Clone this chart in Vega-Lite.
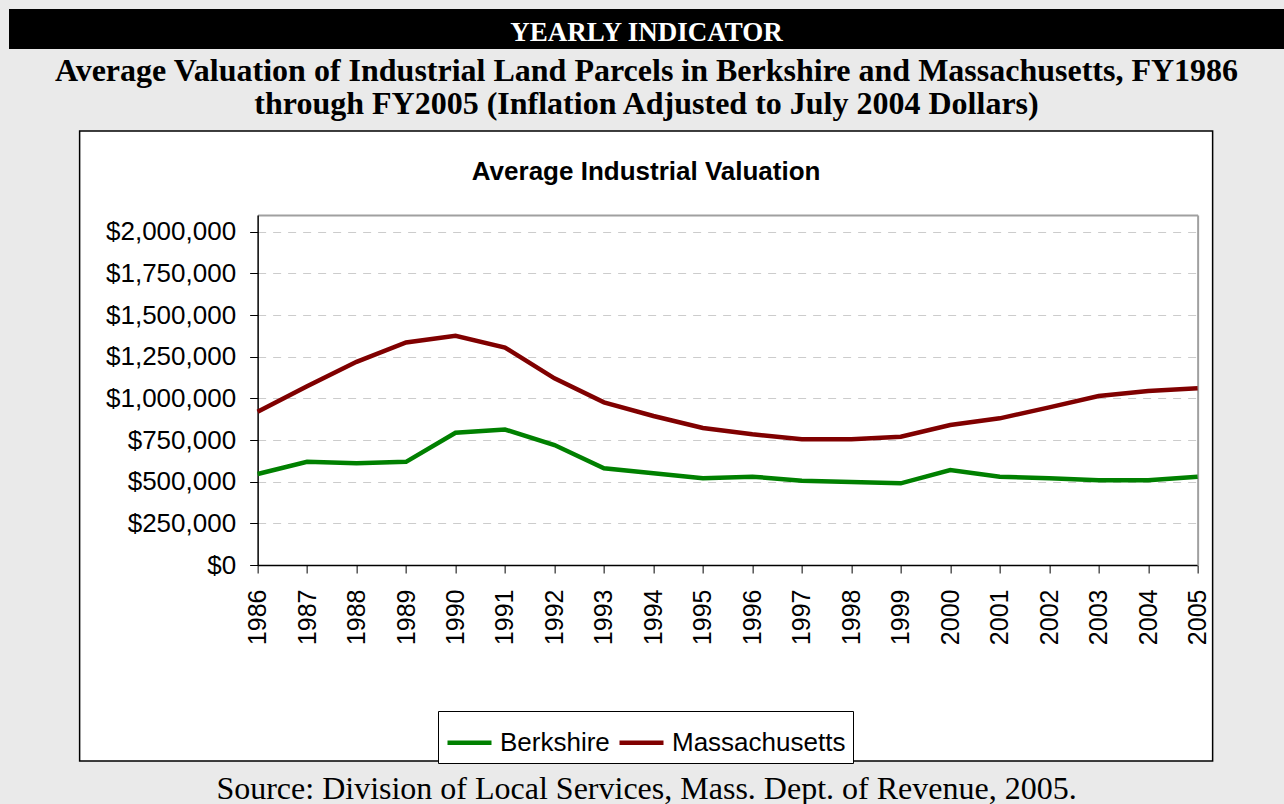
{
  "$schema": "https://vega.github.io/schema/vega-lite/v6.json",
  "background": "#eaeaea",
  "padding": {"left": 9, "top": 9, "right": 0, "bottom": 0},
  "spacing": 10,
  "center": true,
  "datasets": {
    "valuation": [
      {"year": "1986", "region": "Berkshire", "value": 546000},
      {"year": "1987", "region": "Berkshire", "value": 619000},
      {"year": "1988", "region": "Berkshire", "value": 610000},
      {"year": "1989", "region": "Berkshire", "value": 619000},
      {"year": "1990", "region": "Berkshire", "value": 793000},
      {"year": "1991", "region": "Berkshire", "value": 813000},
      {"year": "1992", "region": "Berkshire", "value": 720000},
      {"year": "1993", "region": "Berkshire", "value": 580000},
      {"year": "1994", "region": "Berkshire", "value": 550000},
      {"year": "1995", "region": "Berkshire", "value": 520000},
      {"year": "1996", "region": "Berkshire", "value": 530000},
      {"year": "1997", "region": "Berkshire", "value": 506000},
      {"year": "1998", "region": "Berkshire", "value": 498000},
      {"year": "1999", "region": "Berkshire", "value": 490000},
      {"year": "2000", "region": "Berkshire", "value": 570000},
      {"year": "2001", "region": "Berkshire", "value": 530000},
      {"year": "2002", "region": "Berkshire", "value": 520000},
      {"year": "2003", "region": "Berkshire", "value": 508000},
      {"year": "2004", "region": "Berkshire", "value": 508000},
      {"year": "2005", "region": "Berkshire", "value": 530000},
      {"year": "1986", "region": "Massachusetts", "value": 919000},
      {"year": "1987", "region": "Massachusetts", "value": 1073000},
      {"year": "1988", "region": "Massachusetts", "value": 1219000},
      {"year": "1989", "region": "Massachusetts", "value": 1335000},
      {"year": "1990", "region": "Massachusetts", "value": 1375000},
      {"year": "1991", "region": "Massachusetts", "value": 1305000},
      {"year": "1992", "region": "Massachusetts", "value": 1120000},
      {"year": "1993", "region": "Massachusetts", "value": 976000},
      {"year": "1994", "region": "Massachusetts", "value": 894000},
      {"year": "1995", "region": "Massachusetts", "value": 822000},
      {"year": "1996", "region": "Massachusetts", "value": 784000},
      {"year": "1997", "region": "Massachusetts", "value": 754000},
      {"year": "1998", "region": "Massachusetts", "value": 754000},
      {"year": "1999", "region": "Massachusetts", "value": 770000},
      {"year": "2000", "region": "Massachusetts", "value": 840000},
      {"year": "2001", "region": "Massachusetts", "value": 880000},
      {"year": "2002", "region": "Massachusetts", "value": 946000},
      {"year": "2003", "region": "Massachusetts", "value": 1014000},
      {"year": "2004", "region": "Massachusetts", "value": 1044000},
      {"year": "2005", "region": "Massachusetts", "value": 1060000}
    ]
  },
  "vconcat": [
    {
      "width": 1275,
      "height": 40,
      "view": {"fill": "black", "stroke": null},
      "title": {
        "text": ["Average Valuation of Industrial Land Parcels in Berkshire and Massachusetts, FY1986", "through FY2005 (Inflation Adjusted to July 2004 Dollars)"],
        "orient": "bottom",
        "anchor": "middle",
        "frame": "group",
        "offset": 7,
        "font": "Liberation Serif",
        "fontSize": 32,
        "fontWeight": "bold",
        "lineHeight": 33,
        "color": "black"
      },
      "data": {"values": [{"label": "YEARLY INDICATOR"}]},
      "mark": {"type": "text", "color": "white", "font": "Liberation Serif", "fontSize": 27, "fontWeight": "bold", "dy": 4},
      "encoding": {"text": {"field": "label", "type": "nominal"}}
    },
    {
      "width": 1133,
      "height": 630,
      "view": {"fill": "white", "stroke": "black", "strokeWidth": 1.5},
      "title": {
        "text": "Average Industrial Valuation",
        "font": "Liberation Sans",
        "fontSize": 26,
        "fontWeight": "bold",
        "color": "black",
        "offset": -54,
        "anchor": "middle",
        "frame": "group"
      },
      "data": {"name": "valuation"},
      "layer": [
        {
          "transform": [{"filter": "datum.region === 'Berkshire'"}],
          "mark": {"type": "line", "strokeWidth": 4.5},
          "encoding": {
            "x": {
              "field": "year", "type": "ordinal",
              "scale": {"type": "point", "range": [178, 1118], "padding": 0},
              "axis": {"orient": "bottom", "offset": -196, "labelAngle": -90, "labelFont": "Liberation Sans", "labelFontSize": 25, "labelColor": "black", "tickSize": 8, "tickColor": "black", "domainColor": "black", "domainWidth": 1.5, "labelPadding": 16, "title": null, "grid": false}
            },
            "y": {
              "field": "value", "type": "quantitative",
              "scale": {"domain": [0, 2100000], "range": [434, 84], "nice": false, "zero": true},
              "axis": {"orient": "left", "offset": -178, "values": [0, 250000, 500000, 750000, 1000000, 1250000, 1500000, 1750000, 2000000], "format": "$,.0f", "labelFont": "Liberation Sans", "labelFontSize": 26, "labelColor": "black", "tickSize": 8, "tickColor": "black", "domainColor": "black", "domainWidth": 1.5, "labelPadding": 14, "grid": true, "gridColor": "#cccccc", "gridDash": [8, 7], "gridWidth": 1, "title": null}
            },
            "color": {
              "field": "region", "type": "nominal",
              "scale": {"domain": ["Berkshire", "Massachusetts"], "range": ["#008000", "#800000"]},
              "legend": {"orient": "none", "legendX": 429, "legendY": 702, "direction": "horizontal", "title": null, "labelFont": "Liberation Sans", "labelFontSize": 26, "labelColor": "black", "labelLimit": 400, "symbolType": "stroke", "symbolSize": 1936, "symbolStrokeWidth": 4.5, "padding": 7, "labelOffset": 6, "columnPadding": 0, "fillColor": "white", "strokeColor": "black"}
            }
          }
        },
        {
          "transform": [{"filter": "datum.region === 'Massachusetts'"}],
          "mark": {"type": "line", "strokeWidth": 4.5},
          "encoding": {
            "x": {
              "field": "year", "type": "ordinal",
              "scale": {"type": "point", "range": [178, 1118], "padding": 0},
              "axis": {"orient": "top", "offset": -84, "labels": false, "ticks": false, "domain": true, "domainColor": "#a0a0a0", "domainWidth": 2, "grid": false, "title": null}
            },
            "y": {
              "field": "value", "type": "quantitative",
              "scale": {"domain": [0, 2100000], "range": [434, 84], "nice": false, "zero": true},
              "axis": {"orient": "right", "offset": -15, "labels": false, "ticks": false, "domain": true, "domainColor": "#a0a0a0", "domainWidth": 2, "grid": false, "title": null}
            },
            "color": {
              "field": "region", "type": "nominal",
              "scale": {"domain": ["Berkshire", "Massachusetts"], "range": ["#008000", "#800000"]}
            }
          }
        }
      ],
      "resolve": {"axis": {"x": "independent", "y": "independent"}}
    },
    {
      "width": 1275,
      "height": 33,
      "view": {"stroke": null},
      "data": {"values": [{"t": "Source:  Division of Local Services, Mass. Dept. of Revenue, 2005."}]},
      "mark": {"type": "text", "font": "Liberation Serif", "fontSize": 32, "color": "black", "dy": -3},
      "encoding": {"text": {"field": "t", "type": "nominal"}}
    }
  ]
}
